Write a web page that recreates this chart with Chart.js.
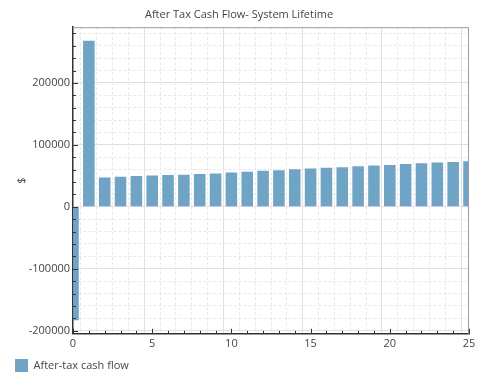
<!DOCTYPE html>
<html lang="en">
<head>
  <meta charset="UTF-8">
  <title>After Tax Cash Flow</title>
  <script src="https://cdn.jsdelivr.net/npm/chart.js"></script>
  <style>
    html, body { margin: 0; padding: 0; background: #fff; }
    #wrap { width: 480px; height: 378px; }
  </style>
</head>
<body>
  <div id="wrap"><canvas id="chartCanvas" width="480" height="378"></canvas></div>

  <script>
    // chart data
    const years = [0, 1, 2, 3, 4, 5, 6, 7, 8, 9, 10, 11, 12, 13, 14, 15, 16, 17, 18, 19, 20, 21, 22, 23, 24, 25];
    const cashFlow = [-183000, 268000, 47500, 48500, 49600, 50700, 51200, 51700, 52800, 53900, 55500, 56500, 58100,
      59200, 60800, 61900, 62900, 64000, 65600, 66700, 67700, 69300, 70400, 71500, 72500, 73600];
    const xTicks = [0, 5, 10, 15, 20, 25];
    const yTicks = [-200000, -100000, 0, 100000, 200000];
    const yMinorStep = 20000;

    const barColor = 'rgb(112,164,198)';
    const font = { family: "'Open Sans', 'Noto Sans', sans-serif", size: 11 };

    // frame + tick marks drawn inside the plot area
    const frameAndTicks = {
      id: 'frameAndTicks',
      afterDraw(chart) {
        const { ctx, chartArea: a, scales } = chart;
        ctx.save();
        ctx.strokeStyle = '#9a9a9a';
        ctx.lineWidth = 1;
        ctx.beginPath();
        ctx.moveTo(a.left, a.top + 0.5);
        ctx.lineTo(a.right - 0.5, a.top + 0.5);
        ctx.lineTo(a.right - 0.5, a.bottom);
        ctx.stroke();

        ctx.strokeStyle = '#333';
        ctx.beginPath();
        scales.y.ticks.forEach(t => {
          const y = Math.round(scales.y.getPixelForValue(t.value)) + 0.5;
          const len = yTicks.includes(t.value) ? 5 : 3;
          ctx.moveTo(a.left, y);
          ctx.lineTo(a.left + len, y);
        });
        scales.x.ticks.forEach(t => {
          const x = Math.round(scales.x.getPixelForValue(t.value)) + 0.5;
          const len = xTicks.includes(t.value) ? 5 : 3;
          ctx.moveTo(x, a.bottom);
          ctx.lineTo(x, a.bottom - len);
        });
        ctx.stroke();
        ctx.restore();
      }
    };

    const isMajorX = c => !!(c.tick && xTicks.includes(c.tick.value));
    const isMajorY = c => !!(c.tick && yTicks.includes(c.tick.value));

    new Chart(document.getElementById('chartCanvas'), {
      type: 'bar',
      data: {
        datasets: [{
          label: 'After-tax cash flow',
          data: years.map((x, i) => ({ x: x, y: cashFlow[i] })),
          backgroundColor: barColor,
          borderWidth: 0,
          barPercentage: 0.73,
          categoryPercentage: 1
        }]
      },
      options: {
        responsive: false,
        animation: false,
        layout: { padding: { left: 9, right: 11, top: 1, bottom: -4 } },
        plugins: {
          title: {
            display: true,
            text: 'After Tax Cash Flow- System Lifetime',
            color: '#444',
            font: { family: font.family, size: 11, weight: 'normal' },
            padding: { top: 7, bottom: 6 }
          },
          legend: {
            position: 'bottom',
            align: 'start',
            labels: {
              color: '#444',
              font: font,
              boxWidth: 13,
              boxHeight: 13,
              padding: 6
            }
          },
          tooltip: { enabled: false }
        },
        scales: {
          x: {
            type: 'linear',
            min: 0,
            max: 25,
            offset: false,
            afterBuildTicks: s => { s.ticks = years.map(v => ({ value: v })); },
            ticks: {
              autoSkip: false,
              maxRotation: 0,
              color: '#444',
              font: font,
              padding: 3,
              callback: v => xTicks.includes(v) ? String(v) : ''
            },
            grid: {
              drawTicks: false,
              color: c => isMajorX(c) ? '#e0e0e0' : '#e8e8e8'
            },
            border: {
              color: '#333',
              width: 1.5,
              dash: c => isMajorX(c) ? [] : [3, 2]
            }
          },
          y: {
            min: -205000,
            max: 290000,
            afterFit: s => { s.width = 64; },
            afterBuildTicks: s => {
              const t = [];
              for (let v = yTicks[0]; v <= s.max; v += yMinorStep) t.push({ value: v });
              s.ticks = t;
            },
            ticks: {
              autoSkip: false,
              color: '#444',
              font: font,
              padding: 3,
              callback: v => yTicks.includes(v) ? String(v) : ''
            },
            grid: {
              drawTicks: false,
              color: c => isMajorY(c) ? '#e0e0e0' : '#e8e8e8'
            },
            border: {
              color: '#333',
              width: 1.5,
              dash: c => isMajorY(c) ? [] : [3, 2]
            },
            title: {
              display: true,
              text: '$',
              color: '#444',
              font: font,
              padding: { top: 6, bottom: 0 }
            }
          }
        }
      },
      plugins: [frameAndTicks]
    });
  </script>
</body>
</html>
